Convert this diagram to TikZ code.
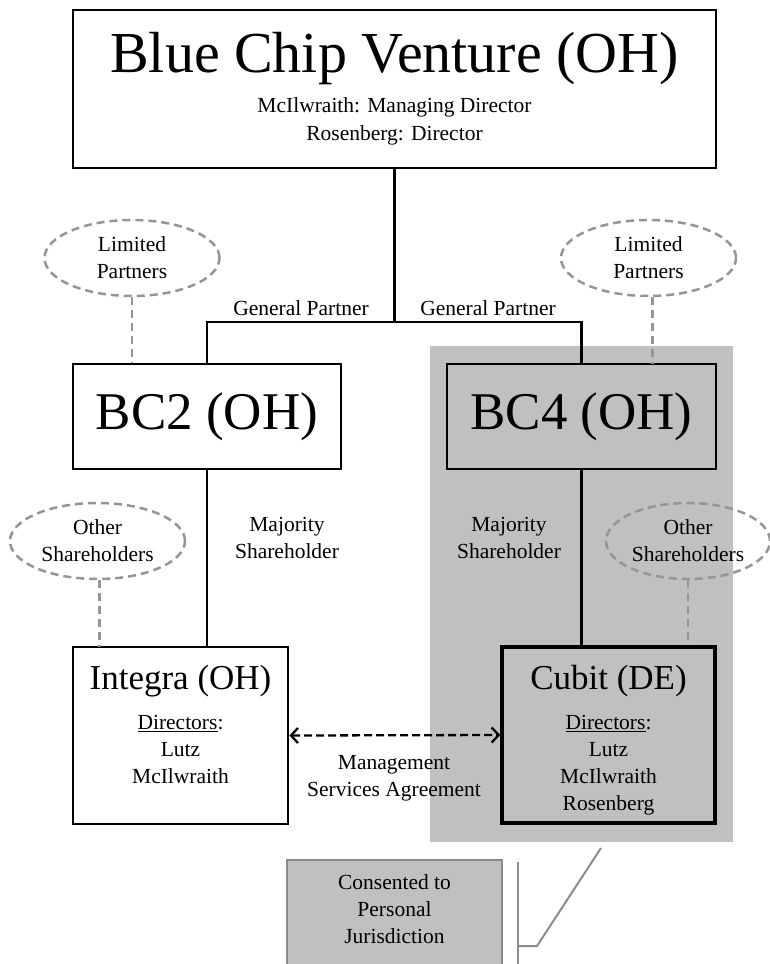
\documentclass[tikz,border=0pt]{standalone}
\usepackage{fontspec}
\setmainfont{Liberation Serif}
\usetikzlibrary{arrows.meta,positioning,shapes.geometric}
\definecolor{fgray}{HTML}{C0C0C0}
\definecolor{dgray}{HTML}{959595}
\definecolor{egray}{HTML}{8C8C8C}

\begin{document}
\begin{tikzpicture}[x=1pt,y=-1pt,
  font=\fontsize{21.5}{27}\selectfont,
  ent/.style={draw,line width=2.8pt,fill=white,align=center,inner sep=0pt},
  big/.style={font=\fontsize{53}{53}\selectfont},
  holder/.style={ellipse,draw=dgray,line width=2.5pt,dash pattern=on 8pt off 5pt,fill=none,align=center,inner sep=0pt,minimum width=175,minimum height=76},
  tie/.style={line width=2.8pt},
  dtie/.style={draw=dgray,line width=2.5pt,dash pattern=on 8pt off 5pt},
  lbl/.style={align=center,inner sep=0pt},
  callout/.style={draw=egray,line width=2pt}]
\useasboundingbox (0,0) rectangle (769,964);
\node[fill=fgray,minimum width=303,minimum height=496,inner sep=0pt] (forum) at (581.5,594) {};
% entities
\node[ent,minimum width=643,minimum height=158,font=\fontsize{21.5}{28}\selectfont] (bcv) at (394.5,89)
  {{\fontsize{58}{58}\selectfont Blue Chip Venture (OH)}\\[12pt] McIlwraith: Managing Director\\ Rosenberg: Director};
\node[ent,big,minimum width=268,minimum height=105] (bctwo) at (207,416.5) {BC2 (OH)};
\node[ent,big,fill=fgray,minimum width=269,minimum height=105] (bcfour) at (581.5,416.5) {BC4 (OH)};
\node[ent,minimum width=215,minimum height=177] (integra) at (180.5,735.5)
  {\rule{0pt}{34pt}{\fontsize{35}{35}\selectfont Integra (OH)}\\[13pt] \underline{Directors}:\\ Lutz\\ McIlwraith\\ \vphantom{Rosenberg}};
\node[ent,fill=fgray,line width=3.5pt,minimum width=213,minimum height=176] (cubit) at (608.5,735) 
  {\rule{0pt}{34pt}{\fontsize{35}{35}\selectfont Cubit (DE)}\\[13pt] \underline{Directors}:\\ Lutz\\ McIlwraith\\ Rosenberg};
\node[ent,draw=egray,line width=2.5pt,fill=fgray,minimum width=215,minimum height=108] (consent) at (394.5,914)
  {Consented to\\ Personal\\ Jurisdiction\rule[-10pt]{0pt}{10pt}};
% outside holders
\node[holder] (lpleft) at (132,258) {Limited\\ Partners};
\node[holder] (lpright) at (648.5,258) {Limited\\ Partners};
\node[holder] (osleft) at (97.5,541) {Other\\ Shareholders};
\node[holder,minimum width=164] (osright) at (688,541) {Other\\ Shareholders};
% labels
\node[lbl] (gpleft) at (301,308) {General Partner};
\node[lbl] (gpright) at (488,308) {General Partner};
\node[lbl] (msleft) at (287,538) {Majority\\ Shareholder};
\node[lbl] (msright) at (509,538) {Majority\\ Shareholder};
\node[lbl] (msa) at (394,778) {Management\\ Services Agreement};
% connectors
\coordinate (gp) at (394.5,322);
\draw[tie] (bcv.south) -- (gp);
\draw[tie] (bctwo.north) |- (gp) -| (bcfour.north);
\draw[tie] (bctwo.south) -- (bctwo.south |- integra.north);
\draw[tie] (bcfour.south) -- (bcfour.south |- cubit.north);
\draw[dtie] (lpleft.south) -- (lpleft.south |- bctwo.north);
\draw[dtie] (lpright.south) ++(4,0) -- (652.5,364);
\draw[dtie] (osleft.south) ++(2,0) -- (99.5,647);
\draw[dtie] (osright.south) -- (osright.south |- cubit.north);
\draw[line width=2.3pt,dash pattern=on 8pt off 4pt,{Straight Barb[length=7pt,width=15pt]}-{Straight Barb[length=7pt,width=15pt]}]
  (integra.east) -- (cubit.west);
% callout
\coordinate (brtop) at (518,862);
\coordinate (brbot) at (518,970);
\coordinate (brknee) at (537,946);
\coordinate (brtip) at (601,848);
\draw[callout] (brtop) -- (brbot);
\draw[callout] (brtop |- brknee) -- (brknee) -- (brtip);
\end{tikzpicture}
\end{document}
